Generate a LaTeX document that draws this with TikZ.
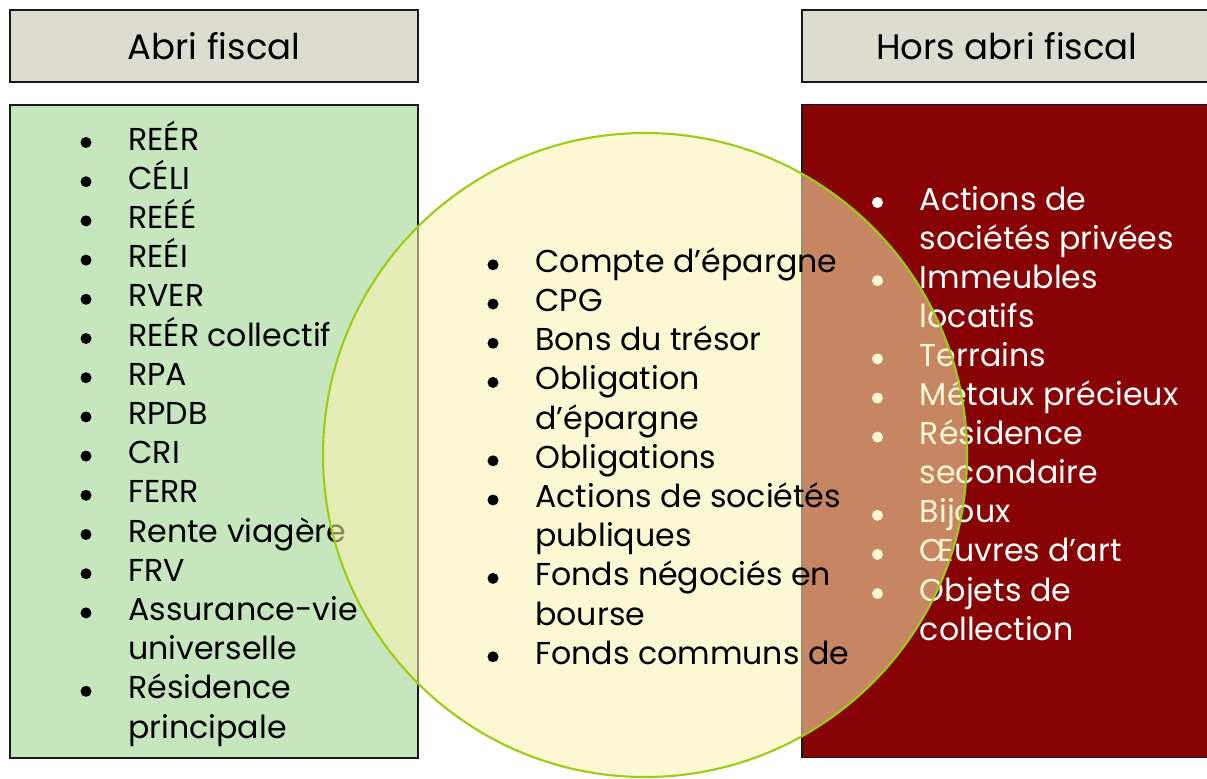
\documentclass[tikz,border=0pt]{standalone}
\usepackage{fontspec}
\setmainfont{Poppins}
\usepackage{tikz}
\usetikzlibrary{positioning}
\definecolor{mydark}{RGB}{25,25,25}
\definecolor{hdrgrey}{RGB}{221,220,208}
\definecolor{shelgreen}{RGB}{198,231,189}
\definecolor{outred}{RGB}{136,4,4}
\definecolor{overlap}{RGB}{251,242,176}
\definecolor{rimgreen}{RGB}{154,206,20}
\tikzset{
  header/.style={rectangle, draw=mydark, fill=hdrgrey, line width=1pt,
    minimum height=1.44cm, font=\fontsize{20.2}{24}\selectfont},
  panel/.style={rectangle, draw=mydark, line width=1pt, minimum height=13.06cm},
  item/.style={anchor=base west, inner sep=0pt, font=\fontsize{18}{22}\selectfont},
  dot/.style={circle, fill, inner sep=0pt, minimum size=0.22cm},
  zone/.style={circle, draw=rimgreen, fill=overlap, fill opacity=0.55,
    line width=1.2pt, minimum size=12.88cm, inner sep=0pt}
}

\begin{document}
\begin{tikzpicture}
  \useasboundingbox (0,0) rectangle (24.14,-15.56);
  \node[header, minimum width=8.16cm] (hleft) at (4.28,-0.92) {Abri fiscal};
  \node[header, minimum width=8.2cm] (hright) at (20.14,-0.92) {Hors abri fiscal};
  \node[panel, fill=shelgreen, minimum width=8.16cm] (inside) at (4.28,-8.63) {};
  \node[panel, fill=outred, minimum width=8.2cm] (outside) at (20.14,-8.62) {};

  % sheltered list
  \foreach \b/\t [count=\i from 0] in {1/REÉR, 1/CÉLI, 1/REÉÉ, 1/REÉI, 1/RVER,
      1/REÉR collectif, 1/RPA, 1/RPDB, 1/CRI, 1/FERR, 1/Rente viagère, 1/FRV,
      1/Assurance-vie, 0/universelle, 1/Résidence, 0/principale} {
    \node[item] (in-\i) at (2.56,-3.0-\i*0.784) {\t};
    \ifnum\b=1 \node[dot] (in-dot-\i) at ([xshift=-0.84cm, yshift=0.15cm]in-\i.base west) {}; \fi
  }

  % non-sheltered list
  \foreach \b/\t [count=\i from 0] in {1/Actions de, 0/sociétés privées,
      1/Immeubles, 0/locatifs, 1/Terrains, 1/Métaux précieux, 1/Résidence,
      0/secondaire, 1/Bijoux, 1/Œuvres d’art, 1/Objets de, 0/collection} {
    \node[item, text=white] (out-\i) at (18.39,-4.2-\i*0.782) {\t};
    \ifnum\b=1 \node[dot, fill=white] (out-dot-\i) at ([xshift=-0.84cm, yshift=0.15cm]out-\i.base west) {}; \fi
  }

  % overlapping circle sits over both panels
  \node[zone] (both) at (12.9,-9.1) {};

  \foreach \b/\t [count=\i from 0] in {1/Compte d’épargne, 1/CPG,
      1/Bons du trésor, 1/Obligation, 0/d’épargne, 1/Obligations,
      1/Actions de sociétés, 0/publiques, 1/Fonds négociés en, 0/bourse,
      1/Fonds communs de} {
    \node[item] (mid-\i) at (10.7,-5.446-\i*0.784) {\t};
    \ifnum\b=1 \node[dot] (mid-dot-\i) at ([xshift=-0.84cm, yshift=0.15cm]mid-\i.base west) {}; \fi
  }
\end{tikzpicture}
\end{document}
